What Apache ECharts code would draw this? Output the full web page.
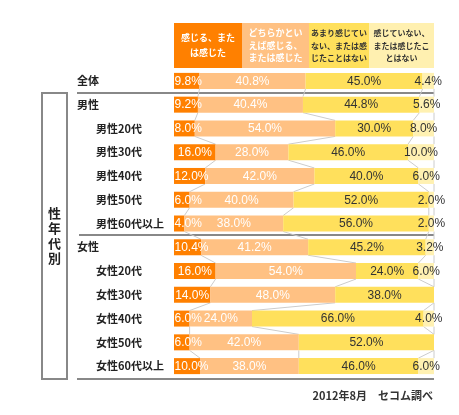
<!DOCTYPE html>
<html><head><meta charset="utf-8">
<script src="https://cdn.jsdelivr.net/npm/echarts@6/dist/echarts.min.js"></script>
<style>html,body{margin:0;padding:0;background:#fff}#c{width:459px;height:415px}</style>
</head><body><div id="c"></div>
<script>
// ---- data ----
const categories = ['全体','男性','男性20代','男性30代','男性40代','男性50代','男性60代以上','女性','女性20代','女性30代','女性40代','女性50代','女性60代以上'];
const topLevel = ['全体','男性','女性'];
const seriesNames = ['感じる、または感じた','どちらかといえば感じる、または感じた','あまり感じていない、または感じたことはない','感じていない、または感じたことはない'];
const headerTexts = ['感じる、また\nは感じた','どちらかとい\nえば感じる、\nまたは感じた','あまり感じてい\nない、または感\nじたことはない','感じていない、\nまたは感じたこ\nとはない'];
const feel      = [9.8, 9.2, 8.0, 16.0, 12.0, 6.0, 4.0, 10.4, 16.0, 14.0, 6.0, 6.0, 10.0];
const ratherFeel= [40.8, 40.4, 54.0, 28.0, 42.0, 40.0, 38.0, 41.2, 54.0, 48.0, 24.0, 42.0, 38.0];
const notMuch   = [45.0, 44.8, 30.0, 46.0, 40.0, 52.0, 56.0, 45.2, 24.0, 38.0, 66.0, 52.0, 46.0];
const notFeel   = [4.4, 5.6, 8.0, 10.0, 6.0, 2.0, 2.0, 3.2, 6.0, 0, 4.0, 0, 6.0];
const sourceNote = '2012年8月　セコム調べ';
// ---------------

const colors = ['#FF8000','#FFC183','#FFE05C','#FFF1B2'];
const headerColors = ['#FF8000','#FFC183','#FFE05C','#FFF0B0'];
const labelColors = ['#fff','#fff','#333','#333'];
const values = [feel, ratherFeel, notMuch, notFeel];
const numFont = "'Liberation Sans', Arial, sans-serif";
const jpFont = "'Noto Sans CJK JP', sans-serif";
const labelFont = '12px ' + numFont;

const measure = document.createElement('canvas').getContext('2d');
measure.font = labelFont;
const textW = s => measure.measureText(s).width;

const cum = categories.map((_, i) => {
  let s = 0; return values.map(v => (s += v[i]));
});
const connData = [];
for (let i = 0; i < categories.length - 1; i++) {
  connData.push([i, ...cum[i], ...cum[i + 1]]);
}
const labelData = [];
categories.forEach((c, i) => {
  values.forEach((v, k) => {
    if (v[i] > 0) labelData.push([cum[i][k] - v[i] / 2, i, v[i], k]);
  });
});

const chart = echarts.init(document.getElementById('c'), null, {renderer: 'canvas'});
const BAR = 16;

const option = {
  animation: false,
  grid: {left: 174, right: 25, top: 69, height: 309},
  xAxis: {type: 'value', min: 0, max: 100, show: false},
  yAxis: {
    type: 'category', inverse: true, data: categories,
    axisLine: {show: false}, axisTick: {show: false}, splitLine: {show: false},
    axisLabel: {
      margin: 97, align: 'left',
      formatter: v => topLevel.includes(v) ? '{a|' + v + '}' : '{b|' + v + '}',
      rich: {
        a: {fontFamily: jpFont, fontSize: 11, fontWeight: 'bold', color: '#222'},
        b: {fontFamily: jpFont, fontSize: 11, fontWeight: 'bold', color: '#222', padding: [0, 0, 0, 19]}
      }
    }
  },
  series: [
    ...values.map((v, k) => ({
      name: seriesNames[k], type: 'bar', stack: 'all', barWidth: BAR, data: v,
      itemStyle: {color: colors[k]},
      label: {show: false},
      z: 3
    })),
    {
      type: 'custom', data: connData,
      encode: {x: [1,2,3,4,5,6,7,8], y: 0},
      renderItem: (params, api) => {
        const i = api.value(0);
        const children = [];
        for (let k = 0; k < 4; k++) {
          const p1 = api.coord([api.value(1 + k), i]);
          const p2 = api.coord([api.value(5 + k), i + 1]);
          children.push({type: 'line', shape: {x1: p1[0], y1: p1[1] + BAR / 2, x2: p2[0], y2: p2[1] - BAR / 2},
            style: {stroke: '#cccccc', lineWidth: 1}});
        }
        return {type: 'group', children};
      },
      z: 2
    },
    {
      type: 'custom', data: labelData, clip: false,
      encode: {x: 0, y: 1},
      renderItem: (params, api) => {
        const i = api.value(1);
        const p = api.coord([api.value(0), i]);
        const left = api.coord([0, i])[0];
        const k = api.value(3);
        const txt = api.value(2).toFixed(1) + '%';
        const w = textW(txt);
        const x = Math.max(p[0] - w / 2, left + 0.5);
        return {type: 'text', x: x, y: p[1] + 0.5, style: {
          text: txt, align: 'left', verticalAlign: 'middle',
          fill: labelColors[k], font: labelFont
        }, z2: 10};
      },
      z: 5
    }
  ]
};
chart.setOption(option);

const yOf = i => chart.convertToPixel({yAxisIndex: 0}, categories[i]);
const band = yOf(1) - yOf(0);
const hx = [174, 242, 309, 369, 434];
const graphic = [];
headerTexts.forEach((t, k) => {
  graphic.push({type: 'rect', shape: {x: hx[k], y: 23, width: hx[k + 1] - hx[k], height: 45}, style: {fill: headerColors[k]}});
  graphic.push({type: 'text', style: {
    text: t, x: (hx[k] + hx[k + 1]) / 2, y: 45.5, align: 'center', verticalAlign: 'middle',
    fill: k < 2 ? '#fff' : '#333', font: 'bold ' + (k < 2 ? 9 : 8) + 'px ' + jpFont, lineHeight: k === 0 ? 15 : 12.5
  }});
});
const sepLine = (y, x1) => ({type: 'line', shape: {x1: x1, y1: y, x2: 434, y2: y}, style: {stroke: '#888', lineWidth: 2}});
graphic.push(sepLine(Math.round(yOf(0) + band / 2), 77));
graphic.push(sepLine(Math.round(yOf(6) + band / 2), 79));
graphic.push(sepLine(Math.round(yOf(12) + band / 2) + 1, 77));
const boxTop = Math.round(yOf(1) - band / 2), boxBot = Math.round(yOf(12) + band / 2) + 1;
graphic.push({type: 'rect', shape: {x: 42, y: boxTop, width: 25, height: boxBot - boxTop}, style: {fill: '#fff', stroke: '#888', lineWidth: 2}});
graphic.push({type: 'text', style: {text: '性\n年\n代\n別', x: 54.5, y: (boxTop + boxBot) / 2, align: 'center', verticalAlign: 'middle',
  fill: '#222', font: 'bold 13px ' + jpFont, lineHeight: 15}});
graphic.push({type: 'text', style: {text: sourceNote, x: 433, y: 396, align: 'right', verticalAlign: 'middle', fill: '#333', font: 'bold 11px ' + jpFont}});
chart.setOption({graphic: graphic});
</script>
</body></html>
